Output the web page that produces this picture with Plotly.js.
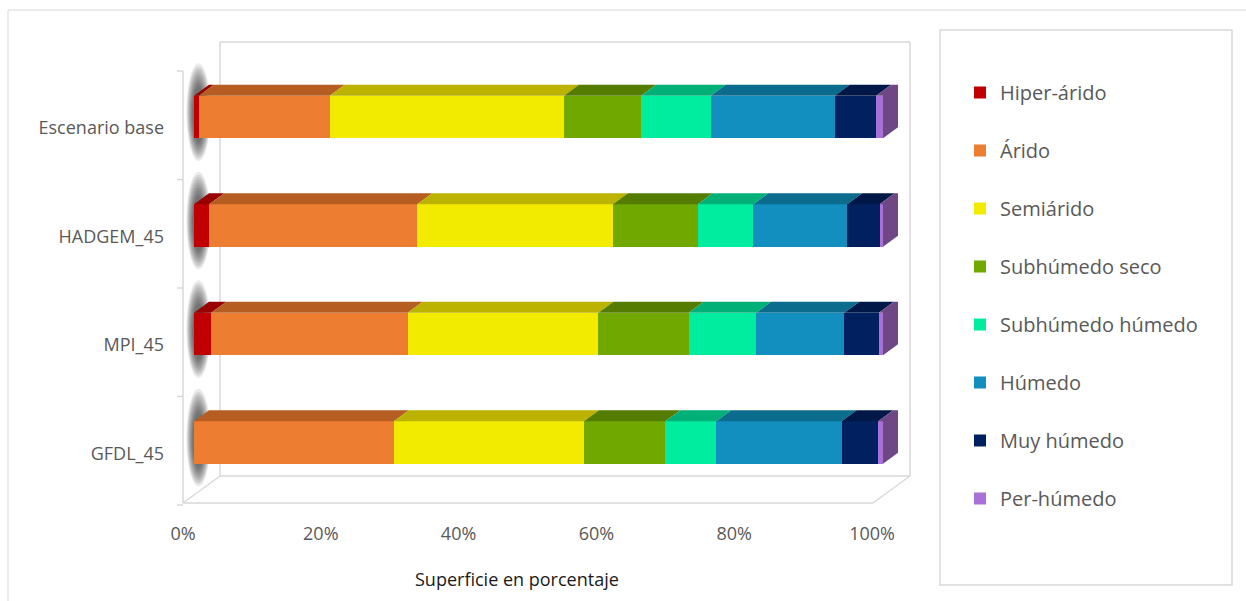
<!DOCTYPE html>
<html>
<head>
<meta charset="utf-8">
<script src="https://cdn.plot.ly/plotly-3.0.1.min.js"></script>
<style>
  html, body { margin: 0; padding: 0; background: #ffffff; }
  #chart { width: 1246px; height: 601px; }
</style>
</head>
<body>
<div id="chart"></div>
<script>
// ---------------- data ----------------
const categories = ['Escenario base', 'HADGEM_45', 'MPI_45', 'GFDL_45'];
const seriesNames = ['Hiper-árido', 'Árido', 'Semiárido', 'Subhúmedo seco',
                     'Subhúmedo húmedo', 'Húmedo', 'Muy húmedo', 'Per-húmedo'];
const hiperArido      = [0.7, 2.2, 2.5, 0.0];
const arido           = [19.0, 30.2, 28.5, 29.0];
const semiarido       = [34.0, 28.4, 27.7, 27.6];
const subhumedoSeco   = [11.2, 12.3, 13.1, 11.8];
const subhumedoHumedo = [10.1, 8.1, 9.8, 7.4];
const humedo          = [18.0, 13.6, 12.8, 18.2];
const muyHumedo       = [6.0, 4.7, 5.0, 5.3];
const perHumedo       = [1.0, 0.5, 0.6, 0.7];
const tickLabels = ['0%', '20%', '40%', '60%', '80%', '100%'];
const tickValues = [0, 20, 40, 60, 80, 100];

const seriesValues = [hiperArido, arido, semiarido, subhumedoSeco,
                      subhumedoHumedo, humedo, muyHumedo, perHumedo];

// ---------------- styles ----------------
const frontColors = ['#C00000', '#ED7D31', '#F2EB00', '#70A800',
                     '#00EDA0', '#128EBF', '#002060', '#A971D8'];
const topColors   = ['#990000', '#B65E22', '#BBB300', '#537C00',
                     '#00B077', '#0B6C8D', '#001848', '#6F4785'];

// geometry (pixel based layout)
const L = 180, R = 910, T = 42, B = 503;        // plot area in px
const PX_PER_UNIT_X = 6.89;                     // px per percent
const PX_PER_CAT = 108.5;                       // px per category
const X0 = -(194 - L) / PX_PER_UNIT_X;          // axis start so 0% sits at 194px
const X1 = X0 + (R - L) / PX_PER_UNIT_X;
const Y_TOP = -(117 - T) / PX_PER_CAT;          // first category centre at 117px
const Y_BOT = (B - 117) / PX_PER_CAT;
const BAR_W = 0.39;
const DX = 15 / PX_PER_UNIT_X;                  // depth of the bar in x units
const DY = -11 / PX_PER_CAT;                    // depth of the bar in y units (reversed axis)

const ypos = categories.map((c, i) => i);

// normalise to percent (like barnorm)
const totals = categories.map((c, j) => seriesValues.reduce((s, arr) => s + arr[j], 0));
const pct = seriesValues.map(arr => arr.map((v, j) => v / totals[j] * 100));

const traces = [];
// front faces (bars)
seriesNames.forEach((name, i) => {
  traces.push({
    type: 'bar',
    orientation: 'h',
    name: name,
    legendgroup: name,
    x: seriesValues[i],
    y: ypos,
    width: BAR_W,
    marker: { color: frontColors[i], line: { width: 0 } },
    hovertemplate: name + ': %{x:.1f}%<extra></extra>'
  });
});

// 3D top faces (and side face of the last series), derived from the data
const cum = categories.map(() => 0);
seriesNames.forEach((name, i) => {
  const xs = [], ys = [];
  categories.forEach((c, j) => {
    const s = cum[j];
    const e = s + pct[i][j];
    cum[j] = e;
    if (pct[i][j] <= 0) return;
    const yt = ypos[j] - BAR_W / 2;
    const yb = ypos[j] + BAR_W / 2;
    xs.push(s, e, e + DX, s + DX, s, null);
    ys.push(yt, yt, yt + DY, yt + DY, yt, null);
    if (i === seriesNames.length - 1) {
      xs.push(e, e + DX, e + DX, e, e, null);
      ys.push(yt, yt + DY, yb + DY, yb, yt, null);
    }
  });
  traces.push({
    type: 'scatter', mode: 'lines', x: xs, y: ys,
    fill: 'toself', fillcolor: topColors[i],
    line: { width: 0, color: topColors[i] },
    showlegend: false, hoverinfo: 'skip'
  });
});

// ---------------- decoration (walls, axis line, shadows) ----------------
const px2x = p => (p - L) / (R - L);
const py2y = p => (B - p) / (B - T);
const wall = { color: '#D9D9D9', width: 1.5 };
const shapes = [];
function pline(x0, y0, x1, y1, line) {
  shapes.push({ type: 'line', xref: 'paper', yref: 'paper',
    x0: px2x(x0), y0: py2y(y0), x1: px2x(x1), y1: py2y(y1), line: line, layer: 'below' });
}
// outer chart border
shapes.push({ type: 'rect', xref: 'paper', yref: 'paper',
  x0: px2x(8), y0: py2y(10), x1: px2x(1252), y1: py2y(610),
  line: { color: '#D9D9D9', width: 1 }, layer: 'below' });
// back wall
pline(220, 42, 910, 42, wall);
pline(220, 42, 220, 476, wall);
pline(910, 42, 910, 476, wall);
pline(220, 476, 910, 476, wall);
// floor
pline(183, 503, 873, 503, wall);
pline(183, 503, 220, 476, wall);
pline(873, 503, 910, 476, wall);
// category axis line + tick marks
pline(183, 71, 183, 503, wall);
for (let k = 0; k <= categories.length; k++) {
  const yy = 71 + k * PX_PER_CAT;
  pline(177, yy, 183, yy, wall);
}
// soft shadow at the left end of each bar (many faint layers to fake a blur)
categories.forEach((c, j) => {
  const yt = ypos[j] - BAR_W / 2, yb = ypos[j] + BAR_W / 2;
  const N = 10;
  for (let k = 0; k < N; k++) {
    const f = 1 - k / N;   // 1 -> outer, small -> inner
    shapes.push({ type: 'circle', xref: 'x', yref: 'y', layer: 'below',
      x0: -0.1 - 1.0 * f, x1: 1.4 + 1.0 * f,
      y0: yt - 0.06 - 0.24 * f, y1: yb + 0.02 + 0.19 * f,
      fillcolor: 'rgba(30,30,30,0.09)', line: { width: 0 } });
  }
});
// legend box
shapes.push({ type: 'rect', xref: 'paper', yref: 'paper',
  x0: px2x(940), y0: py2y(30), x1: px2x(1232), y1: py2y(585),
  line: { color: '#D9D9D9', width: 1.5 }, layer: 'below' });

const FONT = '"Open Sans", "Noto Sans", sans-serif';

const layout = {
  width: 1246, height: 601,
  margin: { l: L, r: 1246 - R, t: T, b: 601 - B, pad: 0 },
  paper_bgcolor: '#ffffff', plot_bgcolor: 'rgba(0,0,0,0)',
  barmode: 'stack', barnorm: 'percent',
  font: { family: FONT, color: '#595959', size: 18 },
  showlegend: true,
  xaxis: {
    range: [X0, X1], showgrid: false, zeroline: false, showline: false,
    tickvals: tickValues, ticktext: tickLabels, ticks: '',
    ticklabelshift: -11, ticklabelstandoff: 18,
    tickfont: { family: FONT, size: 18, color: '#595959' },
    fixedrange: true
  },
  yaxis: {
    range: [Y_BOT, Y_TOP], showgrid: false, zeroline: false, showline: false,
    tickvals: ypos, ticktext: categories, ticks: '',
    ticklabelshift: -11, ticklabelstandoff: 15,
    tickfont: { family: FONT, size: 18, color: '#595959' },
    fixedrange: true
  },
  legend: {
    x: px2x(960), xanchor: 'left', y: py2y(73), yanchor: 'top',
    font: { family: FONT, size: 20, color: '#595959' },
    bgcolor: 'rgba(0,0,0,0)', borderwidth: 0,
    tracegroupgap: 29, traceorder: 'grouped'
  },
  annotations: [{
    text: 'Superficie en porcentaje', showarrow: false,
    xref: 'paper', yref: 'paper', x: px2x(517), y: py2y(579),
    xanchor: 'center', yanchor: 'middle',
    font: { family: FONT, size: 18, color: '#1a1a1a' }
  }],
  shapes: shapes
};

Plotly.newPlot('chart', traces, layout, { displayModeBar: false, staticPlot: false });
</script>
</body>
</html>
